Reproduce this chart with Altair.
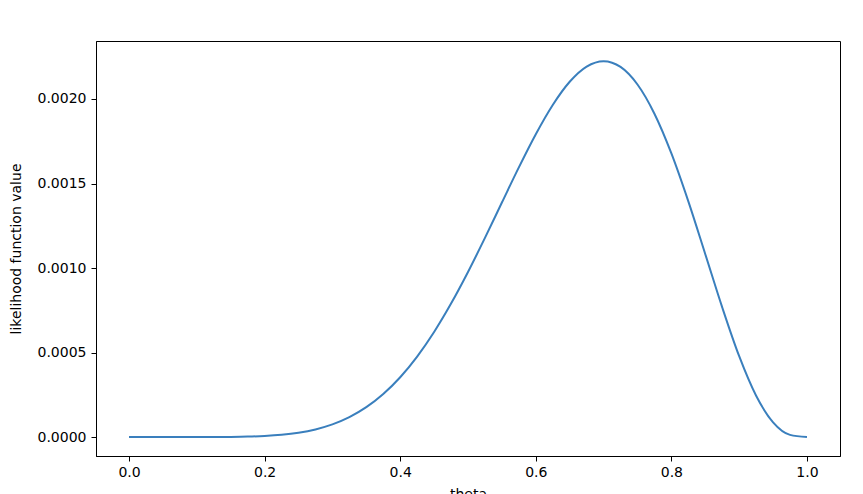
import altair as alt
import pandas as pd

theta = [0.0, 0.05, 0.1, 0.125, 0.15, 0.175, 0.2, 0.225, 0.25, 0.275, 0.3, 0.325, 0.35,
         0.375, 0.4, 0.425, 0.45, 0.475, 0.5, 0.525, 0.55, 0.575, 0.6, 0.625, 0.65,
         0.675, 0.7, 0.725, 0.75, 0.775, 0.8, 0.825, 0.85, 0.875, 0.9, 0.925, 0.95,
         0.975, 1.0]
likelihood = [0.0, 6.7e-10, 7.29e-8, 3.2e-7, 1.049e-6, 2.822e-6, 6.55e-6, 1.359e-5,
              2.575e-5, 4.53e-5, 7.50e-5, 1.178e-4, 1.767e-4, 2.546e-4, 3.539e-4,
              4.761e-4, 6.217e-4, 7.895e-4, 9.766e-4, 1.1781e-3, 1.3873e-3, 1.5953e-3,
              1.7916e-3, 1.9645e-3, 2.1018e-3, 2.1917e-3, 2.2236e-3, 2.1896e-3,
              2.0856e-3, 1.9128e-3, 1.6777e-3, 1.394e-3, 1.0819e-3, 7.67e-4, 4.783e-4,
              2.444e-4, 8.73e-5, 1.309e-5, 0.0]

x_ticks = [0.0, 0.2, 0.4, 0.6, 0.8, 1.0]
y_ticks = [0.0, 0.0005, 0.0010, 0.0015, 0.0020]

df = pd.DataFrame({"theta": theta, "likelihood": likelihood})

font = "DejaVu Sans"

chart = alt.Chart(df).mark_line(
    color="#3a7fbd", strokeWidth=2, interpolate="monotone", clip=True
).encode(
    x=alt.X("theta:Q", title="theta",
            scale=alt.Scale(domain=[-0.0487, 1.0487], nice=False, zero=False),
            axis=alt.Axis(values=x_ticks, format=".1f", grid=False, tickSize=5,
                          labelPadding=4, titlePadding=8)),
    y=alt.Y("likelihood:Q", title="likelihood function value",
            scale=alt.Scale(domain=[-0.000112, 0.002343], nice=False, zero=False),
            axis=alt.Axis(values=y_ticks, format=".4f", grid=False, tickSize=5,
                          labelPadding=5, titlePadding=14)),
).properties(
    width=744, height=415,
    background="white",
    autosize=alt.AutoSizeParams(type="none"),
    padding={"left": 88, "top": 33, "right": 15, "bottom": 40},
).configure_view(
    stroke="black", strokeWidth=1
).configure_axis(
    labelFont=font, titleFont=font, labelFontSize=14, titleFontSize=14,
    titleFontWeight="normal", labelColor="black", titleColor="black",
    domainColor="black", tickColor="black", domainWidth=1, tickWidth=1,
)

chart.save("out.html", embed_options={"renderer": "svg", "actions": False})
